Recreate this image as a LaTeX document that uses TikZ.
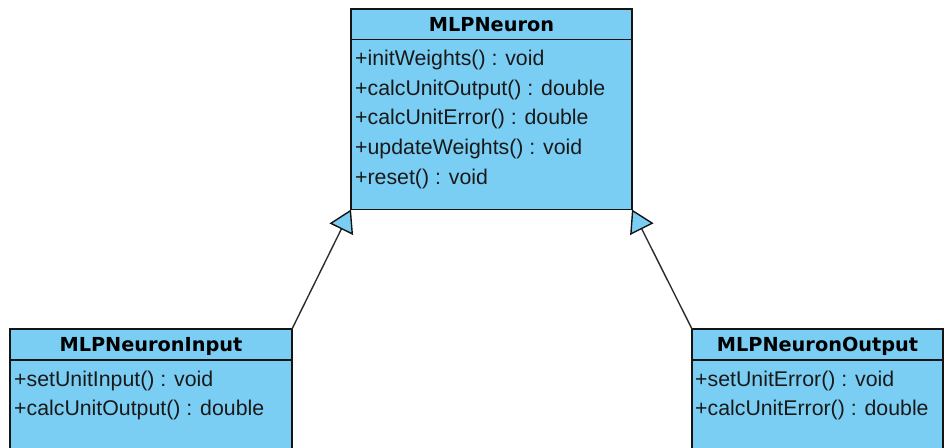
\documentclass[tikz,border=0pt]{standalone}
\usepackage{fontspec}
\setmainfont{Liberation Sans}
\newfontfamily\headfont{DejaVu Sans}
\usetikzlibrary{arrows.meta}
\definecolor{boxfill}{RGB}{122,206,244}
\definecolor{boxline}{RGB}{20,20,20}
\definecolor{linkgray}{RGB}{45,45,45}
\begin{document}
\begin{tikzpicture}[x=1pt,y=-1pt,
  classpart/.style={draw=boxline, fill=boxfill, line width=1.6pt, outer sep=0pt,
    anchor=north west, inner sep=0pt},
  classhead/.style={classpart, minimum height=31pt,
    font=\headfont\bfseries\fontsize{19.3}{22}\selectfont,
    text height=14.1pt, text depth=0pt, text=black},
  classbody/.style={classpart},
  member/.style={anchor=base west, inner sep=0pt, text=black!90,
    font=\fontsize{21.3}{24}\selectfont},
  gen/.style={draw=linkgray, line width=1.4pt,
    -{Triangle[length=22pt, width=26pt, color=boxline, fill=boxfill, line width=1.4pt]}}
]
\useasboundingbox (0,0) rectangle (944,447);
\clip (0,0) rectangle (944,447);

% MLPNeuron
\node[classhead, minimum width=281pt, minimum height=30.5pt] (mlpHead) at (351,9) {MLPNeuron};
\node[classbody, minimum width=281pt, minimum height=170pt] (mlpBody) at (mlpHead.south west) {};
\node[member] (mlpM1) at (355,65.5)  {+initWeights() : void};
\node[member] (mlpM2) at (355,95.2)  {+calcUnitOutput() : double};
\node[member] (mlpM3) at (355,124.9) {+calcUnitError() : double};
\node[member] (mlpM4) at (355,154.6) {+updateWeights() : void};
\node[member] (mlpM5) at (355,184.3) {+reset() : void};

% MLPNeuronInput
\node[classhead, minimum width=282pt] (inHead) at (10,329) {MLPNeuronInput};
\node[classbody, minimum width=282pt, minimum height=130pt] (inBody) at (inHead.south west) {};
\node[member] (inM1) at (14,386) {+setUnitInput() : void};
\node[member] (inM2) at (14,415.7) {+calcUnitOutput() : double};

% MLPNeuronOutput
\node[classhead, minimum width=251pt] (outHead) at (692,329) {MLPNeuronOutput};
\node[classbody, minimum width=251pt, minimum height=130pt] (outBody) at (outHead.south west) {};
\node[member] (outM1) at (695,386) {+setUnitError() : void};
\node[member] (outM2) at (695,415.7) {+calcUnitError() : double};

% generalization links
\draw[gen] (inHead.north east) -- (mlpBody.south west);
\draw[gen] (outHead.north west) -- (mlpBody.south east);
\end{tikzpicture}
\end{document}
